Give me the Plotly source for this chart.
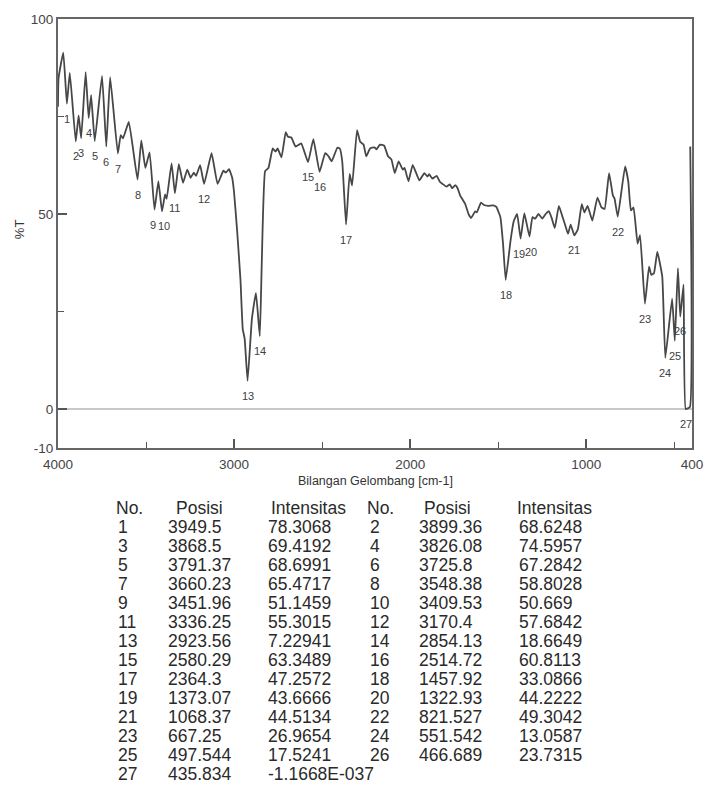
import plotly.graph_objects as go

# ---------------- data ----------------
# FTIR spectrum (wavenumber cm-1, %T)
wavenumber = [4000, 3997, 3970, 3949.5, 3933, 3899.4, 3883, 3868.5, 3843, 3826.1, 3812, 3791.4,
              3750, 3725.8, 3704, 3660.2, 3644, 3631, 3598, 3548.4, 3527, 3504, 3480, 3452,
              3430, 3409.5, 3392, 3383, 3355, 3336.3, 3314, 3290, 3266, 3247, 3229, 3216,
              3193, 3170.4, 3128, 3094, 3061, 3047, 3029, 3011, 3001, 2983, 2964, 2951,
              2940, 2923.6, 2899, 2876, 2854.1, 2843, 2824, 2805, 2781, 2765, 2753, 2731,
              2707, 2694, 2675, 2651, 2619, 2580.3, 2550, 2514.7, 2483, 2464, 2446, 2414,
              2400, 2386, 2364.3, 2344, 2330, 2302, 2284, 2265, 2250, 2228, 2204, 2191,
              2172, 2148, 2126, 2107, 2088, 2066, 2042, 2032, 2010, 1986, 1948, 1920,
              1902, 1893, 1874, 1850, 1831, 1813, 1794, 1775, 1762, 1744, 1731, 1716,
              1688, 1669, 1654, 1631, 1622, 1598, 1581, 1557, 1529, 1511, 1488, 1473,
              1457.9, 1430, 1412, 1393, 1373.1, 1352, 1322.9, 1306, 1291, 1272, 1250, 1231,
              1212, 1197, 1179, 1156, 1134, 1119, 1104, 1089, 1068.4, 1048, 1026, 1011,
              993, 966, 937, 914, 896, 871, 849, 840, 821.5, 780, 762, 747,
              732, 709, 695, 667.3, 644, 631, 616, 597, 569, 551.5, 513, 497.5,
              480, 466.7, 448, 435.8, 412, 410]
transmittance = [77.5, 84.8, 91.4, 78.3, 86.2, 68.6, 75.3, 69.4, 86.4, 74.6, 80.5, 68.7,
                 85.4, 67.3, 85.1, 65.5, 70.2, 69.4, 73.6, 58.8, 68.9, 61.8, 65.8, 51.1,
                 58.4, 50.7, 55.0, 53.9, 63.0, 55.3, 62.8, 58.0, 61.4, 59.3, 60.6, 59.8,
                 62.5, 57.7, 65.6, 57.7, 61.1, 60.6, 61.5, 59.3, 55.9, 45.8, 33.2, 20.5,
                 18.0, 7.2, 23.1, 29.8, 18.7, 37.4, 61.0, 61.8, 66.8, 66.0, 66.8, 64.5,
                 71.0, 69.8, 69.6, 67.3, 68.1, 63.3, 69.2, 60.8, 65.6, 64.8, 63.5, 67.0,
                 66.8, 63.5, 47.3, 60.3, 57.3, 71.5, 68.5, 67.8, 64.8, 66.8, 67.1, 66.6,
                 67.8, 67.5, 64.8, 64.0, 60.5, 63.5, 61.4, 61.8, 58.4, 62.6, 58.6, 60.5,
                 59.6, 60.2, 59.1, 59.8, 58.2, 57.6, 57.0, 57.6, 56.6, 57.4, 56.6, 54.7,
                 52.6, 50.0, 49.0, 50.7, 50.4, 52.9, 52.3, 52.1, 52.2, 51.8, 49.2, 42.4,
                 33.1, 43.3, 48.2, 50.0, 43.7, 50.2, 44.2, 49.2, 48.8, 50.0, 48.8, 50.0,
                 50.7, 49.0, 46.4, 52.1, 49.1, 47.0, 44.9, 47.3, 44.5, 46.1, 52.5, 50.4,
                 52.1, 48.3, 54.2, 51.7, 51.3, 60.5, 54.7, 54.0, 49.3, 62.2, 58.4, 50.9,
                 51.7, 42.4, 44.6, 27.0, 36.5, 34.4, 34.8, 40.3, 34.0, 13.1, 28.3, 17.5,
                 36.1, 23.7, 31.9, 0.0, 0.5, 67.3]

# Peak table
peak_no = list(range(1, 28))
peak_pos_text = ["3949.5", "3899.36", "3868.5", "3826.08", "3791.37", "3725.8", "3660.23",
                 "3548.38", "3451.96", "3409.53", "3336.25", "3170.4", "2923.56", "2854.13",
                 "2580.29", "2514.72", "2364.3", "1457.92", "1373.07", "1322.93", "1068.37",
                 "821.527", "667.25", "551.542", "497.544", "466.689", "435.834"]
peak_int_text = ["78.3068", "68.6248", "69.4192", "74.5957", "68.6991", "67.2842", "65.4717",
                 "58.8028", "51.1459", "50.669", "55.3015", "57.6842", "7.22941", "18.6649",
                 "63.3489", "60.8113", "47.2572", "33.0866", "43.6666", "44.2222", "44.5134",
                 "49.3042", "26.9654", "13.0587", "17.5241", "23.7315", "-1.1668E-037"]
peak_pos = [float(s) for s in peak_pos_text]
peak_int = [float(s) for s in peak_int_text]

x_tickvals = [4000, 3000, 2000, 1000, 400]
y_tickvals = [100, 50, 0, -10]
table_headers = ["No.", "Posisi", "Intensitas", "No.", "Posisi", "Intensitas"]

# ---------------- figure ----------------
W, H = 715, 789
ML, MR, MT, MB = 58, 13, 12, 341
plot_w = W - ML - MR
plot_h = H - MT - MB

fig = go.Figure()
fig.add_trace(go.Scatter(
    x=wavenumber, y=transmittance, mode="lines",
    line=dict(color="#474747", width=1.8, shape="spline", smoothing=0.35),
    hoverinfo="x+y", showlegend=False))

FONT = "Liberation Sans, Arial, sans-serif"


def px_to_paper(px, py):
    return (px - ML) / plot_w, (H - MB - py) / plot_h


# small horizontal nudges so that close labels (9/10, 19/20) sit like in the original
label_xshift = {9: -2, 10: 2, 19: -2, 20: 2}

annotations = []
# peak number labels under each peak
for n, xp, yp in zip(peak_no, peak_pos, peak_int):
    annotations.append(dict(x=xp, y=yp, xref="x", yref="y", text=str(n), showarrow=False,
                            xanchor="center", yanchor="middle",
                            yshift=-15, xshift=label_xshift.get(n, 0),
                            font=dict(family=FONT, size=11, color="#404040")))

# axis titles
tx, ty = px_to_paper(380, 482)
annotations.append(dict(x=0.5, y=ty, xref="paper", yref="paper",
                        text="Bilangan Gelombang [cm-1]", showarrow=False,
                        xanchor="center", yanchor="middle",
                        font=dict(family=FONT, size=12.5, color="#333333")))
tx, ty = px_to_paper(19, 226)
annotations.append(dict(x=tx, y=ty, xref="paper", yref="paper", text="%T", textangle=-90,
                        showarrow=False, xanchor="center", yanchor="middle",
                        font=dict(family=FONT, size=13, color="#333333")))

# peak table (two column groups)
header_px = [115, 176, 272, 370, 428, 522]
data_px = [117, 168, 269, 373, 423, 524]
header_py = 509
row_py0 = 528.5
row_dy = 19.3
TFONT = dict(family=FONT, size=17.5, color="#2a2a2a")
for hx, h in zip(header_px, table_headers):
    ax, ay = px_to_paper(hx, header_py)
    annotations.append(dict(x=ax, y=ay, xref="paper", yref="paper", text=h, showarrow=False,
                            xanchor="left", yanchor="middle", font=TFONT))
for i in range(0, len(peak_no), 2):
    r = i // 2
    py = row_py0 + r * row_dy
    cells = [str(peak_no[i]), peak_pos_text[i], peak_int_text[i]]
    if i + 1 < len(peak_no):
        cells += [str(peak_no[i + 1]), peak_pos_text[i + 1], peak_int_text[i + 1]]
    for cx, c in zip(data_px, cells):
        ax, ay = px_to_paper(cx, py)
        annotations.append(dict(x=ax, y=ay, xref="paper", yref="paper", text=c, showarrow=False,
                                xanchor="left", yanchor="middle", font=TFONT))

fig.update_layout(
    width=W, height=H,
    margin=dict(l=ML, r=MR, t=MT, b=MB, pad=0),
    paper_bgcolor="white", plot_bgcolor="white",
    showlegend=False,
    annotations=annotations,
    font=dict(family=FONT, color="#444444"),
)
fig.update_xaxes(
    range=[4000, 400], tickvals=x_tickvals, ticktext=[str(v) for v in x_tickvals],
    ticks="inside", ticklen=9, tickwidth=1.5, tickcolor="#555555",
    minor=dict(tickvals=[3500, 2500, 1500, 500], ticks="inside", ticklen=6,
               tickwidth=1.2, tickcolor="#555555"),
    showline=True, linecolor="#666666", linewidth=2, mirror=True,
    showgrid=False, zeroline=False,
    ticklabelstandoff=3,
    tickfont=dict(family=FONT, size=13.5, color="#444444"),
)
fig.update_yaxes(
    range=[-10, 100], tickvals=y_tickvals, ticktext=[str(v) for v in y_tickvals],
    ticks="inside", ticklen=9, tickwidth=1.5, tickcolor="#555555",
    minor=dict(tickvals=[75, 25], ticks="inside", ticklen=6, tickwidth=1.2,
               tickcolor="#555555"),
    showline=True, linecolor="#666666", linewidth=2, mirror=True,
    showgrid=False, zeroline=True, zerolinecolor="#c8c8c8", zerolinewidth=2,
    tickfont=dict(family=FONT, size=13.5, color="#444444"),
)

fig.write_html(
    "out.html",
    config={"displayModeBar": False},
    post_script="document.documentElement.style.margin='0';document.body.style.margin='0';"
                "document.documentElement.style.overflow='hidden';document.body.style.overflow='hidden';",
)
